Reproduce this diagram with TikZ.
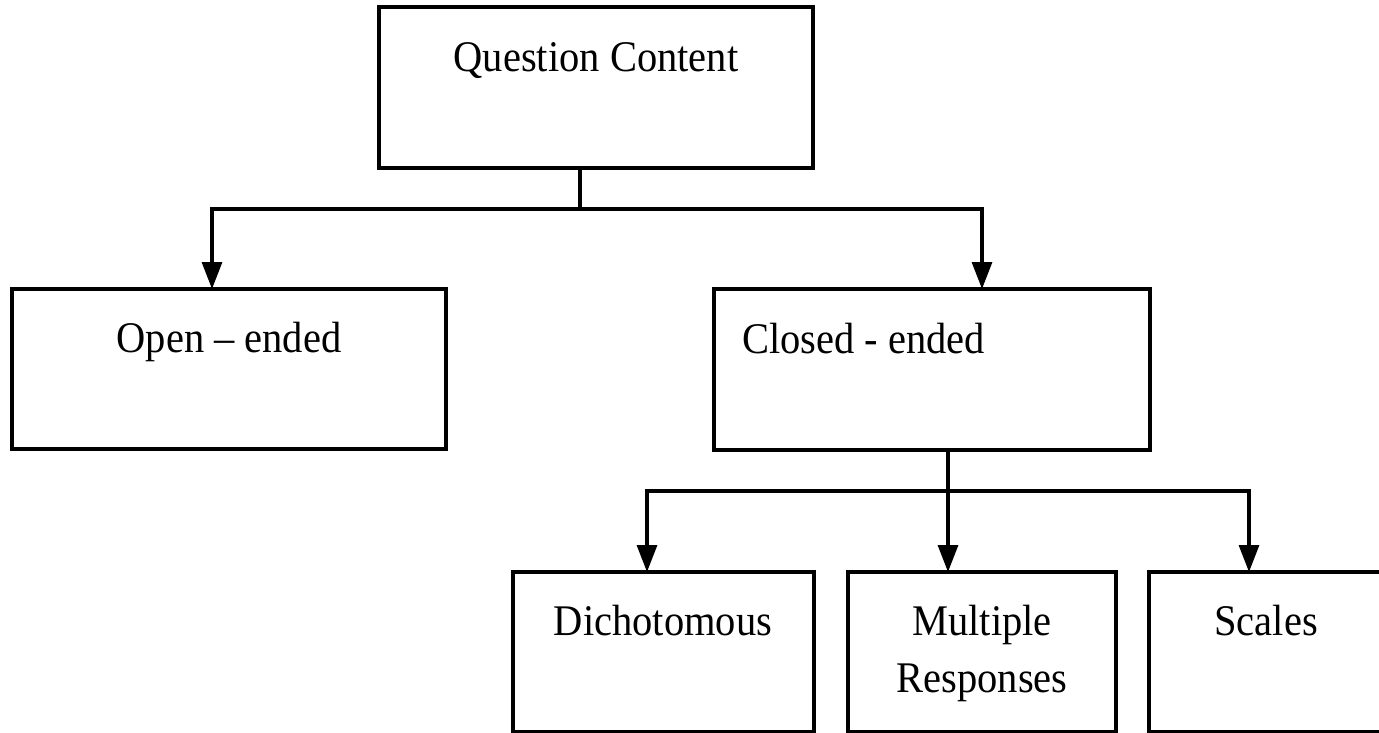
\documentclass[tikz,border=0pt]{standalone}
\usepackage{fontspec}
\setmainfont{Liberation Serif}
\usetikzlibrary{arrows.meta}
% slightly tall lettering
\newcommand\talltext[1]{\scalebox{1}[1.08]{#1}}
\begin{document}
\begin{tikzpicture}[x=1pt,y=-1pt,
  box/.style={draw, line width=3.2pt, rectangle, inner sep=0pt, outer sep=0pt, anchor=north west},
  lbl/.style={font=\fontsize{40.5}{57}\selectfont, inner sep=0pt, anchor=base},
  link/.style={line width=3.2pt},
  arr/.style={line width=3.2pt, -{Triangle[length=27pt,width=20pt]}}]
\useasboundingbox (0,0) rectangle (1379,733);
% boxes
\node[box, minimum width=434pt, minimum height=161pt] (qc)     at (379,7)   {};
\node[box, minimum width=434pt, minimum height=160pt] (open)   at (12,289)  {};
\node[box, minimum width=436pt, minimum height=161pt] (closed) at (714,289) {};
\node[box, minimum width=301pt, minimum height=160pt] (dich)   at (513,572) {};
\node[box, minimum width=268pt, minimum height=160pt] (mult)   at (848,572) {};
\node[box, minimum width=234pt, minimum height=160pt] (scales) at (1149,572) {};
% labels
\node[lbl] (tqc) at (596,72) {\talltext{Question Content}};
\node[lbl] (topen) at (229,352) {\talltext{Open – ended}};
\node[lbl, anchor=base west] (tclosed) at (742,353) {\talltext{Closed - ended}};
\node[lbl] (tdich) at (663,635) {\talltext{Dichotomous}};
\node[lbl] (tmult1) at (982,635) {\talltext{Multiple}};
\node[lbl] (tmult2) at (982,692) {\talltext{Responses}};
\node[lbl] (tscales) at (1266,635) {\talltext{Scales}};
% first level
\coordinate (j1) at (580,209);
\draw[link] (j1 |- qc.south) -- (j1);
\draw[arr] (j1) -| ([xshift=-17pt]open.north);
\draw[arr] (j1) -| ([xshift=50pt]closed.north);
% second level
\coordinate (j2) at (948,491);
\draw[arr] (j2 |- closed.south) -- (j2 |- mult.north);
\draw[arr] (j2) -| ([xshift=-16.5pt]dich.north);
\draw[arr] (j2) -| ([xshift=-17pt]scales.north);
\end{tikzpicture}
\end{document}
